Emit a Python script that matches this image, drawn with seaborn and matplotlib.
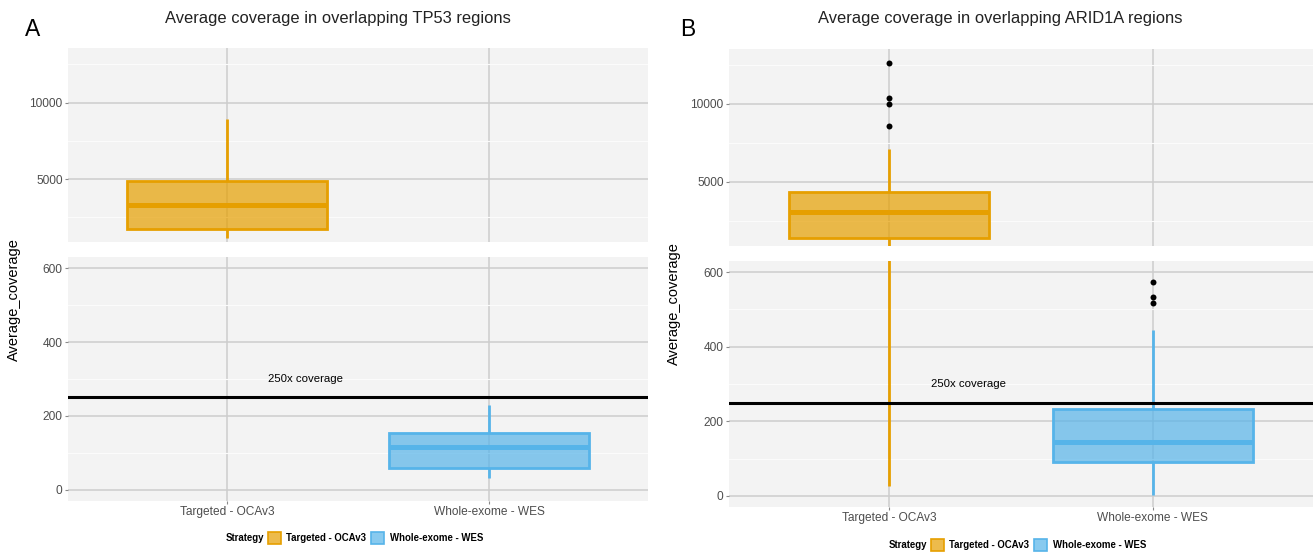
import pandas as pd
import matplotlib
matplotlib.use("Agg")
import matplotlib.pyplot as plt
from matplotlib.patches import Patch
from matplotlib.colors import to_rgba
from matplotlib.ticker import MultipleLocator, FixedLocator, StrMethodFormatter
import seaborn as sns

plt.rcParams["font.family"] = ["Liberation Sans", "DejaVu Sans"]

# categories and colours
cats = ["Targeted - OCAv3", "Whole-exome - WES"]
colors = ["#E69F00", "#56B4E9"]

# box summaries: lower whisker, Q1, median, Q3, upper whisker
tp53_targeted = [1130, 1720, 3300, 4870, 8950]
tp53_wes = [32, 59, 116, 154, 230]
arid1a_targeted = [27, 1436, 3077, 4359, 7077]
arid1a_wes = [3, 91, 145, 233, 445]

# outlier points
arid1a_targeted_out = [8547, 10000, 10395, 12609]
arid1a_wes_out = [517, 533, 573]

threshold = 250
titles = ["Average coverage in overlapping TP53 regions",
          "Average coverage in overlapping ARID1A regions"]

W, H = 1313, 552
BG = "#F3F3F3"
GRID = "#CDCDCD"
TXT = "#4D4D4D"

fig = plt.figure(figsize=(W / 100, H / 100), dpi=100)


def px(x0, y0, x1, y1):
    return [x0 / W, 1 - y1 / H, (x1 - x0) / W, (y1 - y0) / H]


def frame(vals, cat):
    return pd.DataFrame({"Strategy": [cat] * len(vals), "Average_coverage": vals})


def draw_panel(xl, xr, top_y, bot_y, top_lim, boxes, outs, title, title_x, letter, letter_x,
               ylab_x, ylab_y, legend_y):
    ax_top = fig.add_axes(px(xl, top_y[0], xr, top_y[1]))
    ax_bot = fig.add_axes(px(xl, bot_y[0], xr, bot_y[1]))
    for ax in (ax_top, ax_bot):
        ax.set_facecolor(BG)
        for cat, col, vals, out in zip(cats, colors, boxes, outs):
            sns.boxplot(data=frame(vals, cat), x="Strategy", y="Average_coverage", order=cats,
                        color=col, linecolor=col, saturation=1, width=0.76, whis=(0, 100),
                        showcaps=False, linewidth=2.0,
                        boxprops={"facecolor": to_rgba(col, 0.7)},
                        medianprops={"linewidth": 3.6}, ax=ax)
            if out:
                sns.stripplot(data=frame(out, cat), x="Strategy", y="Average_coverage",
                              order=cats, jitter=False, color="black", size=4.3, ax=ax)
        ax.set_xlim(-0.607, 1.607)
        ax.set_xlabel("")
        ax.set_ylabel("")
        for s in ax.spines.values():
            s.set_visible(False)
        ax.grid(which="major", color=GRID, lw=1.1)
        ax.grid(which="minor", axis="y", color="#FBFBFB", lw=0.8)
        ax.set_axisbelow(True)
        ax.tick_params(which="major", length=2.4, width=0.8, color="#8A8A8A",
                       labelcolor=TXT, labelsize=8.6, pad=1.5)
        ax.tick_params(which="minor", length=0)
        ax.yaxis.set_major_formatter(StrMethodFormatter("{x:.0f}"))

    ax_top.set_ylim(*top_lim)
    ax_top.yaxis.set_major_locator(FixedLocator([5000, 10000]))
    ax_top.yaxis.set_minor_locator(MultipleLocator(2500))
    ax_top.tick_params(axis="x", bottom=False, labelbottom=False)

    ax_bot.set_ylim(-30, 630)
    ax_bot.yaxis.set_major_locator(MultipleLocator(200))
    ax_bot.yaxis.set_minor_locator(MultipleLocator(100))
    ax_bot.axhline(threshold, color="black", lw=2.2, zorder=4)
    ax_bot.text(0.3, 300, "250x coverage", ha="center", va="center", fontsize=8.2, color="black")

    fig.text(title_x / W, 1 - 19 / H, title, ha="center", va="center", fontsize=11.9, color="#222222")
    fig.text(letter_x / W, 1 - 30 / H, letter, ha="center", va="center", fontsize=16.5, color="black")
    fig.text(ylab_x / W, 1 - ylab_y / H, "Average_coverage", rotation=90, ha="center",
             va="center", fontsize=10.5, color="black")

    # legend: title inline on the left
    mid = (xl + xr) / 2
    fig.text((mid - 94) / W, 1 - legend_y / H, "Strategy", ha="right", va="center",
             fontsize=6.9, fontweight="bold")
    handles = [Patch(facecolor=to_rgba(c, 0.7), edgecolor=c, lw=1.2) for c in colors]
    leg = fig.legend(handles, cats, loc="center left", bbox_to_anchor=((mid - 90) / W, 1 - legend_y / H),
                     ncol=2, frameon=False, fontsize=6.9, handlelength=1.35, handleheight=1.6,
                     handletextpad=0.55, columnspacing=0.55, borderpad=0, borderaxespad=0)
    for t in leg.get_texts():
        t.set_fontweight("bold")


draw_panel(68, 648, (48, 242), (257, 501), (890, 13570),
           [tp53_targeted, tp53_wes], [None, None],
           titles[0], 338, "A", 33, 14, 300, 538)
draw_panel(729, 1313, (49, 246), (261, 507), (897, 13506),
           [arid1a_targeted, arid1a_wes], [arid1a_targeted_out, arid1a_wes_out],
           titles[1], 1000, "B", 688, 674, 304, 545)

fig.savefig("out.png", dpi=100)
